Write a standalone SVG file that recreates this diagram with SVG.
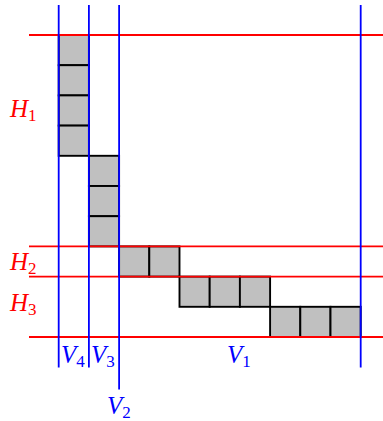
<svg xmlns="http://www.w3.org/2000/svg" width="383" height="421" viewBox="0 0 383 421">
<style>
.cell{fill:#c0c0c0;stroke:#000;stroke-width:1.9}
.h{stroke:#ff0000;stroke-width:1.8}
.v{stroke:#0000ff;stroke-width:1.8}
.lab{font-family:"Liberation Serif","DejaVu Serif",serif;font-style:italic;font-size:25px}
.sub{font-style:normal;font-size:17px}
.r{fill:#ff0000}
.b{fill:#0000ff}
</style>
<rect width="383" height="421" fill="#fff"/>
<g id="cells">
<rect class="cell" x="58.7" y="35" width="30.2" height="30.2"/>
<rect class="cell" x="58.7" y="65.2" width="30.2" height="30.2"/>
<rect class="cell" x="58.7" y="95.4" width="30.2" height="30.2"/>
<rect class="cell" x="58.7" y="125.6" width="30.2" height="30.2"/>
<rect class="cell" x="88.9" y="155.8" width="30.2" height="30.2"/>
<rect class="cell" x="88.9" y="186" width="30.2" height="30.2"/>
<rect class="cell" x="88.9" y="216.2" width="30.2" height="30.2"/>
<rect class="cell" x="119.1" y="246.4" width="30.2" height="30.2"/>
<rect class="cell" x="149.3" y="246.4" width="30.2" height="30.2"/>
<rect class="cell" x="179.5" y="276.6" width="30.2" height="30.2"/>
<rect class="cell" x="209.7" y="276.6" width="30.2" height="30.2"/>
<rect class="cell" x="239.9" y="276.6" width="30.2" height="30.2"/>
<rect class="cell" x="270.1" y="306.8" width="30.2" height="30.2"/>
<rect class="cell" x="300.3" y="306.8" width="30.2" height="30.2"/>
<rect class="cell" x="330.5" y="306.8" width="30.2" height="30.2"/>
</g>
<g id="lines">
<line id="h1" class="h" x1="29" y1="35" x2="383" y2="35"/>
<line id="h2" class="h" x1="29" y1="246.4" x2="383" y2="246.4"/>
<line id="h3" class="h" x1="29" y1="276.6" x2="383" y2="276.6"/>
<line id="h4" class="h" x1="29" y1="337" x2="383" y2="337"/>
<line id="v4" class="v" x1="58.7" y1="5" x2="58.7" y2="367.5"/>
<line id="v3" class="v" x1="88.9" y1="5" x2="88.9" y2="367.5"/>
<line id="v2" class="v" x1="119.1" y1="5" x2="119.1" y2="389.5"/>
<line id="v1" class="v" x1="360.7" y1="5" x2="360.7" y2="367.5"/>
</g>
<g id="labels">
<text class="lab r" x="10" y="117">H<tspan class="sub" dy="4">1</tspan></text>
<text class="lab r" x="10" y="270">H<tspan class="sub" dy="4">2</tspan></text>
<text class="lab r" x="10" y="311">H<tspan class="sub" dy="4">3</tspan></text>
<text class="lab b" x="61" y="363">V<tspan class="sub" dy="4">4</tspan></text>
<text class="lab b" x="91" y="363">V<tspan class="sub" dy="4">3</tspan></text>
<text class="lab b" x="227" y="363">V<tspan class="sub" dy="4">1</tspan></text>
<text class="lab b" x="107" y="414">V<tspan class="sub" dy="4">2</tspan></text>
</g>
</svg>
